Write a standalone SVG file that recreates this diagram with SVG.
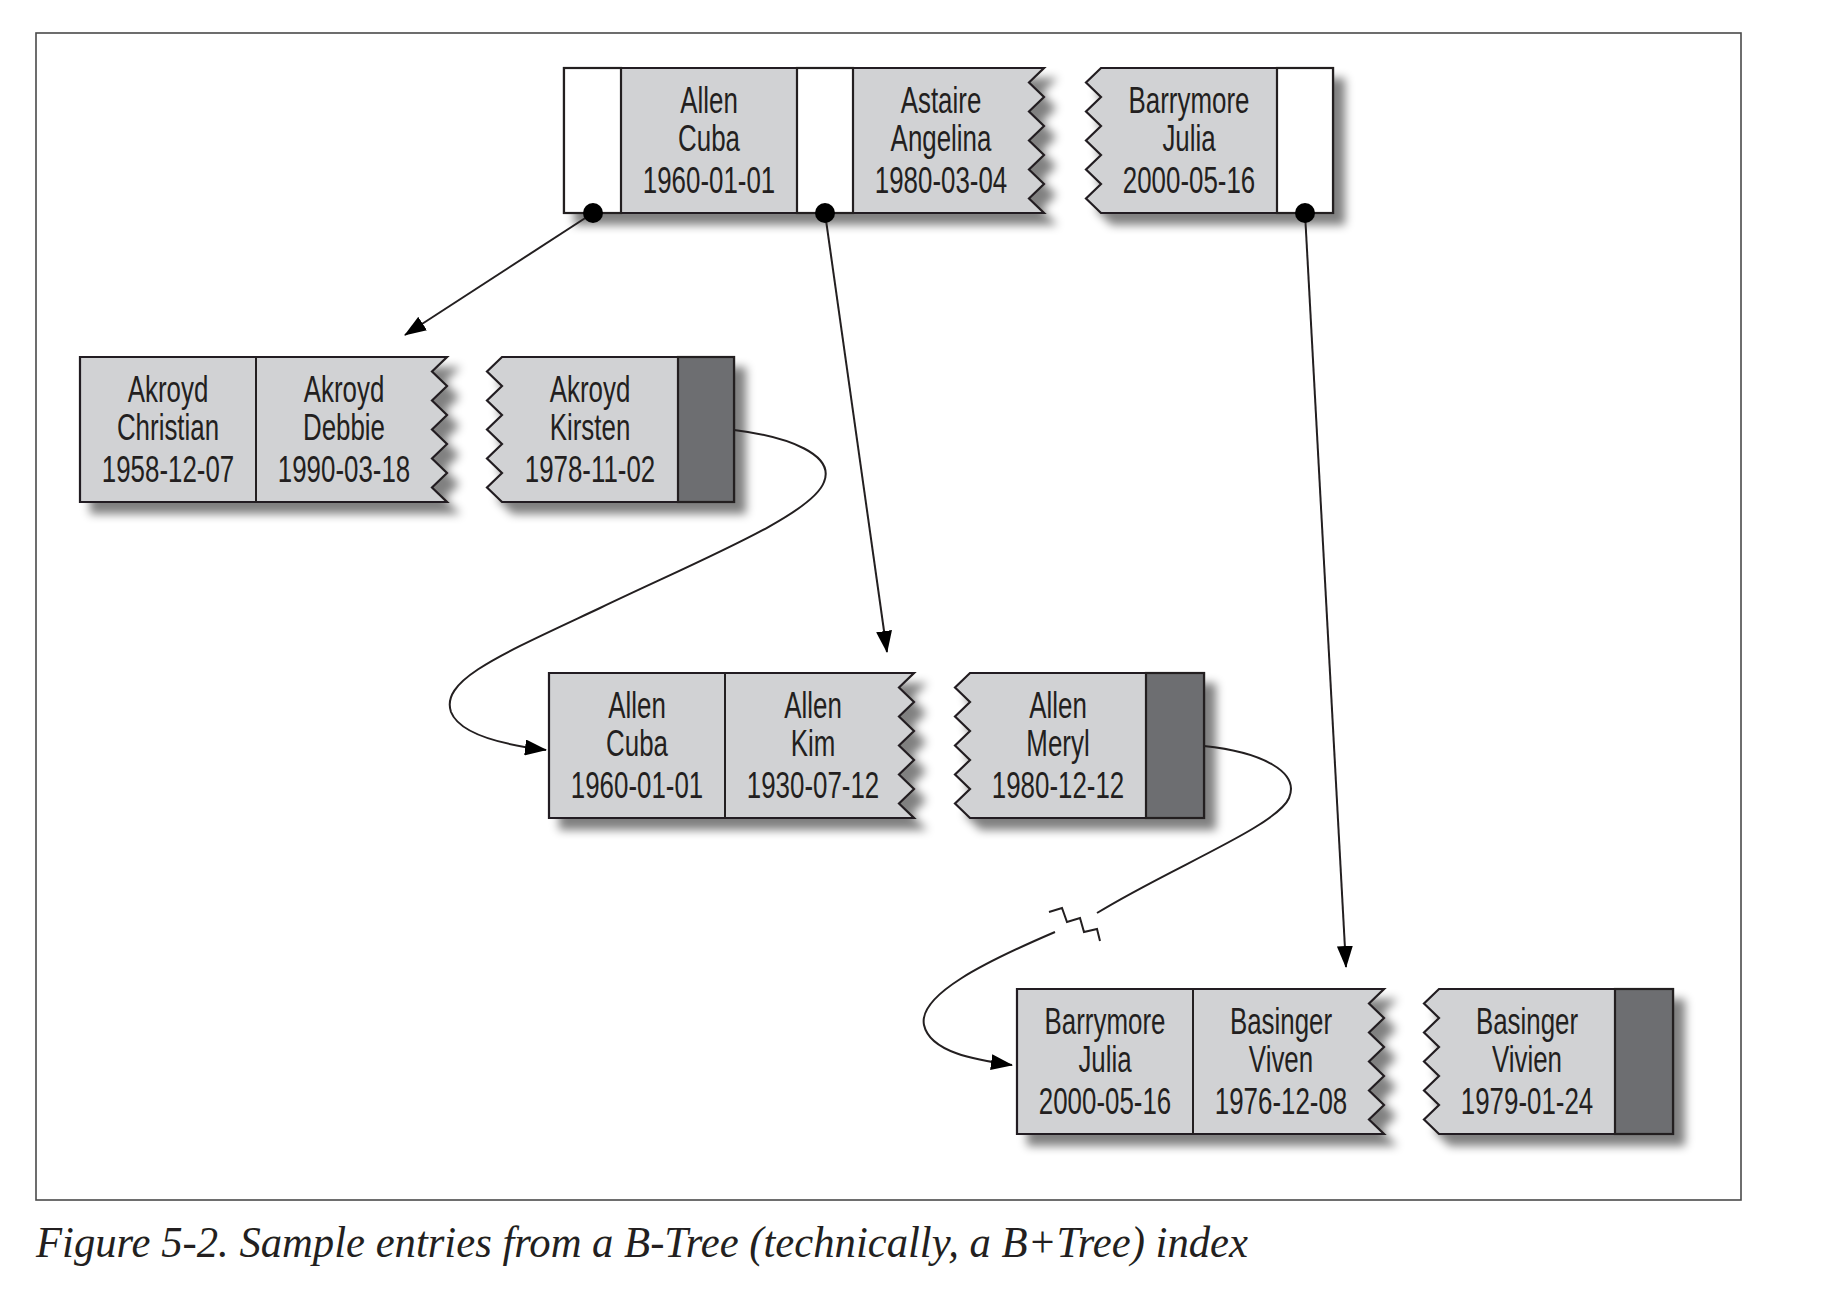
<svg xmlns="http://www.w3.org/2000/svg" width="1838" height="1304" viewBox="0 0 1838 1304">
<style>
.frame{fill:none;stroke:#4a4a4a;stroke-width:1.6}
.cell{fill:#d1d2d4;stroke:#231f20;stroke-width:2.2;stroke-linejoin:miter}
.ptr{fill:#ffffff;stroke:#231f20;stroke-width:2.2}
.dark{fill:#6d6e71;stroke:#231f20;stroke-width:2.2}
.div{stroke:#231f20;stroke-width:2}
.t{font-family:"Liberation Sans",Arial,sans-serif;font-size:37px;fill:#231f20;text-anchor:middle}
.cap{font-family:"Liberation Serif","Times New Roman",serif;font-style:italic;font-size:44px;fill:#231f20}
.con{fill:none;stroke:#231f20;stroke-width:2}
.dot{fill:#000}
</style>
<defs>
<filter id="sh" x="-10%" y="-20%" width="130%" height="160%">
<feGaussianBlur in="SourceAlpha" stdDeviation="5"/>
<feOffset dx="11" dy="11"/>
<feComponentTransfer><feFuncA type="linear" slope="0.5"/></feComponentTransfer>
<feMerge><feMergeNode/><feMergeNode in="SourceGraphic"/></feMerge>
</filter>
<marker id="ah" markerUnits="userSpaceOnUse" markerWidth="22" markerHeight="16" refX="21" refY="8" orient="auto">
<path d="M0,0 L22,8 L0,16 Z" fill="#000"/>
</marker>
</defs>
<rect x="0" y="0" width="1838" height="1304" fill="#ffffff"/>
<rect class="frame" x="36" y="33" width="1705" height="1167"/>

<g id="node-root">
<path class="cell" filter="url(#sh)" d="M564,68 H1044 l-15,14.5 15,14.5 -15,14.5 15,14.5 -15,14.5 15,14.5 -15,14.5 15,14.5 -15,14.5 15,14.5 H564 Z"/>
<rect class="ptr" x="564" y="68" width="57" height="145"/>
<rect class="ptr" x="797" y="68" width="56" height="145"/>
<g transform="translate(709,68) scale(0.7,1)"><text class="t" x="0" y="45">Allen</text><text class="t" x="0" y="83">Cuba</text><text class="t" x="0" y="125">1960-01-01</text></g>
<g transform="translate(941,68) scale(0.7,1)"><text class="t" x="0" y="45">Astaire</text><text class="t" x="0" y="83">Angelina</text><text class="t" x="0" y="125">1980-03-04</text></g>
<path class="cell" filter="url(#sh)" d="M1101,68 H1333 V213 H1101 l-15,-14.5 15,-14.5 -15,-14.5 15,-14.5 -15,-14.5 15,-14.5 -15,-14.5 15,-14.5 -15,-14.5 15,-14.5 Z"/>
<rect class="ptr" x="1277" y="68" width="56" height="145"/>
<g transform="translate(1189,68) scale(0.7,1)"><text class="t" x="0" y="45">Barrymore</text><text class="t" x="0" y="83">Julia</text><text class="t" x="0" y="125">2000-05-16</text></g>
</g>

<g id="node-akroyd">
<path class="cell" filter="url(#sh)" d="M80,357 H447 l-15,14.5 15,14.5 -15,14.5 15,14.5 -15,14.5 15,14.5 -15,14.5 15,14.5 -15,14.5 15,14.5 H80 Z"/>
<line class="div" x1="256" y1="357" x2="256" y2="502"/>
<g transform="translate(168,357) scale(0.7,1)"><text class="t" x="0" y="45">Akroyd</text><text class="t" x="0" y="83">Christian</text><text class="t" x="0" y="125">1958-12-07</text></g>
<g transform="translate(344,357) scale(0.7,1)"><text class="t" x="0" y="45">Akroyd</text><text class="t" x="0" y="83">Debbie</text><text class="t" x="0" y="125">1990-03-18</text></g>
<path class="cell" filter="url(#sh)" d="M502,357 H734 V502 H502 l-15,-14.5 15,-14.5 -15,-14.5 15,-14.5 -15,-14.5 15,-14.5 -15,-14.5 15,-14.5 -15,-14.5 15,-14.5 Z"/>
<rect class="dark" x="678" y="357" width="56" height="145"/>
<g transform="translate(590,357) scale(0.7,1)"><text class="t" x="0" y="45">Akroyd</text><text class="t" x="0" y="83">Kirsten</text><text class="t" x="0" y="125">1978-11-02</text></g>
</g>

<g id="node-allen">
<path class="cell" filter="url(#sh)" d="M549,673 H914 l-15,14.5 15,14.5 -15,14.5 15,14.5 -15,14.5 15,14.5 -15,14.5 15,14.5 -15,14.5 15,14.5 H549 Z"/>
<line class="div" x1="725" y1="673" x2="725" y2="818"/>
<g transform="translate(637,673) scale(0.7,1)"><text class="t" x="0" y="45">Allen</text><text class="t" x="0" y="83">Cuba</text><text class="t" x="0" y="125">1960-01-01</text></g>
<g transform="translate(813,673) scale(0.7,1)"><text class="t" x="0" y="45">Allen</text><text class="t" x="0" y="83">Kim</text><text class="t" x="0" y="125">1930-07-12</text></g>
<path class="cell" filter="url(#sh)" d="M970,673 H1204 V818 H970 l-15,-14.5 15,-14.5 -15,-14.5 15,-14.5 -15,-14.5 15,-14.5 -15,-14.5 15,-14.5 -15,-14.5 15,-14.5 Z"/>
<rect class="dark" x="1146" y="673" width="58" height="145"/>
<g transform="translate(1058,673) scale(0.7,1)"><text class="t" x="0" y="45">Allen</text><text class="t" x="0" y="83">Meryl</text><text class="t" x="0" y="125">1980-12-12</text></g>
</g>

<g id="node-barrymore">
<path class="cell" filter="url(#sh)" d="M1017,989 H1384 l-15,14.5 15,14.5 -15,14.5 15,14.5 -15,14.5 15,14.5 -15,14.5 15,14.5 -15,14.5 15,14.5 H1017 Z"/>
<line class="div" x1="1193" y1="989" x2="1193" y2="1134"/>
<g transform="translate(1105,989) scale(0.7,1)"><text class="t" x="0" y="45">Barrymore</text><text class="t" x="0" y="83">Julia</text><text class="t" x="0" y="125">2000-05-16</text></g>
<g transform="translate(1281,989) scale(0.7,1)"><text class="t" x="0" y="45">Basinger</text><text class="t" x="0" y="83">Viven</text><text class="t" x="0" y="125">1976-12-08</text></g>
<path class="cell" filter="url(#sh)" d="M1439,989 H1673 V1134 H1439 l-15,-14.5 15,-14.5 -15,-14.5 15,-14.5 -15,-14.5 15,-14.5 -15,-14.5 15,-14.5 -15,-14.5 15,-14.5 Z"/>
<rect class="dark" x="1615" y="989" width="58" height="145"/>
<g transform="translate(1527,989) scale(0.7,1)"><text class="t" x="0" y="45">Basinger</text><text class="t" x="0" y="83">Vivien</text><text class="t" x="0" y="125">1979-01-24</text></g>
</g>

<g id="connectors">
<line class="con" x1="593" y1="213" x2="405" y2="335" marker-end="url(#ah)"/>
<line class="con" x1="825" y1="213" x2="887" y2="652" marker-end="url(#ah)"/>
<line class="con" x1="1305" y1="213" x2="1346" y2="967" marker-end="url(#ah)"/>
<circle class="dot" cx="593" cy="213" r="10"/>
<circle class="dot" cx="825" cy="213" r="10"/>
<circle class="dot" cx="1305" cy="213" r="10"/>
<path class="con" d="M734,430 C790,437 835,455 824,482 C812,515 700,560 600,608 C500,655 440,680 451,712 C460,735 505,745 546,750" marker-end="url(#ah)"/>
<path class="con" d="M1204,746 C1262,752 1300,772 1289,798 C1277,826 1170,868 1097,913"/>
<path class="con" d="M1055,932 C985,962 918,995 924,1025 C930,1052 975,1060 1012,1065" marker-end="url(#ah)"/>
<polyline class="con" points="1049,912 1062,908 1067,922 1080,918 1084,932 1097,929 1100,941"/>
</g>

<text class="cap" x="36" y="1257" textLength="1212" lengthAdjust="spacingAndGlyphs">Figure 5-2. Sample entries from a B-Tree (technically, a B+Tree) index</text>
</svg>
